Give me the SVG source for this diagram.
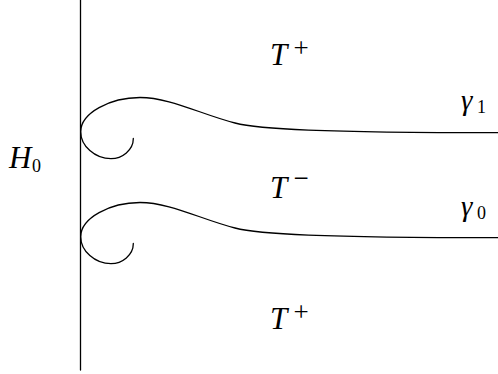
<svg xmlns="http://www.w3.org/2000/svg" width="498" height="374" viewBox="0 0 498 374">
<style>
.ln{fill:none;stroke:#000;stroke-width:1.3;stroke-linecap:round}
.m{font-family:"Liberation Serif",serif;font-style:italic;font-size:31px;fill:#000}
.s{font-family:"Liberation Serif",serif;font-style:normal;font-size:18px;fill:#000}
.op{font-family:"Liberation Serif",serif;font-style:normal;font-size:27px;fill:#000}
.g{font-family:"Liberation Serif",serif;font-style:italic;font-size:29px;fill:#000}
</style>
<defs>
<path id="curve" d="M133.3,138.5 C133.5,150 122,158.7 111,158.7 C95,158.7 80.7,146 80.7,131.7 C80.7,113 110,97.5 140,97.5 C170,97.5 200,114 235,123 C258,129 320,132.5 498,132.7"/>
</defs>
<g id="connectors">
<line class="ln" x1="80.5" y1="0" x2="80.5" y2="370"/>
<use href="#curve" class="ln"/>
<use href="#curve" class="ln" transform="translate(0,105)"/>
</g>
<g id="H0"><text class="m" x="9" y="168.3">H</text><text class="s" x="32" y="172">0</text></g>
<g id="Tplus-top"><text class="m" x="270" y="65">T</text><text class="op" x="293.5" y="57">+</text></g>
<g id="Tminus"><text class="m" x="270" y="198.3">T</text><text class="op" x="293.5" y="187">−</text></g>
<g id="Tplus-bottom"><text class="m" x="270" y="329">T</text><text class="op" x="293.5" y="321">+</text></g>
<g id="gamma1"><text class="g" x="461" y="110">γ</text><text class="s" x="477" y="113.3">1</text></g>
<g id="gamma0"><text class="g" x="461" y="216">γ</text><text class="s" x="477" y="219.3">0</text></g>
</svg>
